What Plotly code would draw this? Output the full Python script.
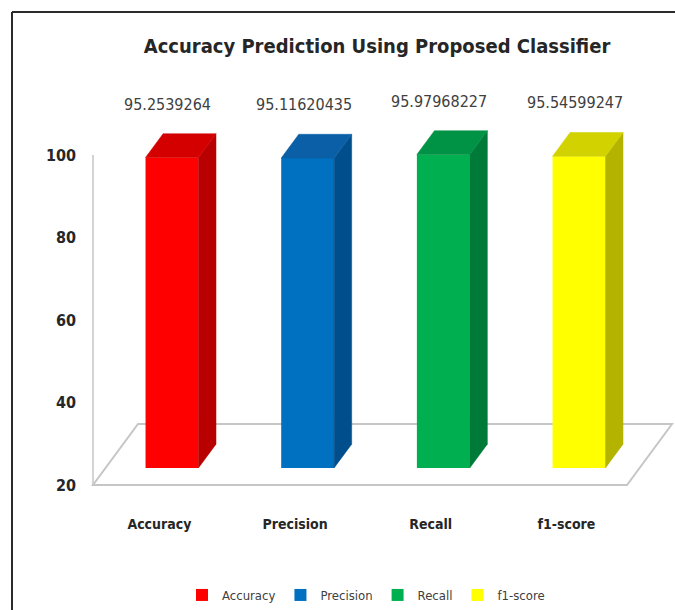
import plotly.graph_objects as go

# ---------------- data ----------------
categories = ["Accuracy", "Precision", "Recall", "f1-score"]
values = [95.2539264, 95.11620435, 95.97968227, 95.54599247]
y_ticks = [20, 40, 60, 80, 100]
title_text = "Accuracy Prediction Using Proposed Classifier"

# ---------------- styles ----------------
front_colors = ["#ff0000", "#0070c0", "#00b050", "#ffff00"]
side_colors = ["#b80000", "#004f8c", "#007a38", "#b3b300"]
top_colors = ["#d40000", "#0a5fa6", "#009245", "#d2d200"]
FONT = "Liberation Sans Narrow, Arial Narrow, DejaVu Sans Condensed, sans-serif"
GRID = "#c6c6c6"

# ---------------- layout geometry (pixels) ----------------
W, H = 675, 610
PX_CAT0, PX_PER_CAT = 159.4, 135.67      # category 0 centre on front plane
PX_Y20, PX_PER_UNIT = 485.0, 4.125       # value 20 on front plane
DEPTH_PX = (45.0, 61.0)                  # floor depth vector in px (right, up)
PLOT_L, PLOT_R, PLOT_T, PLOT_B = 89, 675, 105.5, 490

x_range = [(PLOT_L - PX_CAT0) / PX_PER_CAT, (PLOT_R - PX_CAT0) / PX_PER_CAT]
y_range = [20 + (PX_Y20 - PLOT_B) / PX_PER_UNIT, 20 + (PX_Y20 - PLOT_T) / PX_PER_UNIT]
DX = DEPTH_PX[0] / PX_PER_CAT
DY = DEPTH_PX[1] / PX_PER_UNIT
D_FRONT, D_BACK = 0.28, 0.67
BAR_W = 0.39
FLOOR_X0 = (93 - PX_CAT0) / PX_PER_CAT
FLOOR_X1 = (627 - PX_CAT0) / PX_PER_CAT
base_val = y_ticks[0]


def proj(x, v, d):
    return x + d * DX, v + d * DY


fig = go.Figure()
shapes = []

# floor (parallelogram) as a shape beneath the bars
pts = [proj(x, base_val, d) for (x, d) in [(FLOOR_X0, 0), (FLOOR_X1, 0), (FLOOR_X1, 1), (FLOOR_X0, 1)]]
path = "M " + " L ".join(f"{px},{py}" for px, py in pts) + " Z"
shapes.append(dict(type="path", xref="x", yref="y", path=path, fillcolor="white",
                   line=dict(color=GRID, width=2), layer="below"))
# value axis line
shapes.append(dict(type="line", xref="x", yref="y", x0=FLOOR_X0, x1=FLOOR_X0, y0=y_ticks[0], y1=y_ticks[-1],
                   line=dict(color=GRID, width=1.5), layer="below"))

# front faces (bars) – one trace per series for legend
for i, (cat, v) in enumerate(zip(categories, values)):
    xc, _ = proj(i, base_val, D_FRONT)
    fig.add_trace(go.Bar(x=[xc], y=[v - base_val], base=[base_val + D_FRONT * DY], width=BAR_W,
                         name=cat, marker=dict(color=front_colors[i], line=dict(width=0))))

# side and top faces
dd = D_BACK - D_FRONT
for i, (cat, v) in enumerate(zip(categories, values)):
    xc, _ = proj(i, base_val, D_FRONT)
    xl, xr = xc - BAR_W / 2, xc + BAR_W / 2
    bot = base_val + D_FRONT * DY
    top = v + D_FRONT * DY
    sx = [xr, xr, xr + dd * DX, xr + dd * DX, xr]
    sy = [bot, top, top + dd * DY, bot + dd * DY, bot]
    fig.add_trace(go.Scatter(x=sx, y=sy, mode="lines", fill="toself", fillcolor=side_colors[i],
                             line=dict(color=side_colors[i], width=0.5), showlegend=False, hoverinfo="skip"))
    tx = [xl, xr, xr + dd * DX, xl + dd * DX, xl]
    ty = [top, top, top + dd * DY, top + dd * DY, top]
    fig.add_trace(go.Scatter(x=tx, y=ty, mode="lines", fill="toself", fillcolor=top_colors[i],
                             line=dict(color=top_colors[i], width=0.5), showlegend=False, hoverinfo="skip"))
    lx, ly = proj(i, v, D_BACK)
    fig.add_annotation(x=xc - 0.03, y=ly, text=str(v), showarrow=False, yanchor="bottom", yshift=18,
                       font=dict(family=FONT, size=16, color="#404040"))

# frame
shapes += [
    dict(type="line", xref="paper", yref="paper", x0=12 / W, x1=1, y0=1 - 12 / H, y1=1 - 12 / H,
         line=dict(color="#2a2a2a", width=2)),
    dict(type="line", xref="paper", yref="paper", x0=12 / W, x1=12 / W, y0=0, y1=1 - 12 / H,
         line=dict(color="#2a2a2a", width=2)),
]

fig.update_layout(
    width=W, height=H,
    margin=dict(l=0, r=0, t=0, b=0, autoexpand=False),
    paper_bgcolor="white", plot_bgcolor="white",
    barmode="overlay",
    title=dict(text=title_text, x=377 / W, xref="container", xanchor="center",
               y=1 - 46 / H, yref="container", yanchor="middle",
               font=dict(family=FONT, size=20, color="#262626", weight="bold")),
    xaxis=dict(domain=[PLOT_L / W, PLOT_R / W], range=x_range, showgrid=False, zeroline=False,
               showline=False, ticks="", tickvals=list(range(len(categories))), ticktext=categories,
               automargin=False, ticklabelstandoff=24,
               tickfont=dict(family=FONT, size=14, color="#262626", weight="bold")),
    yaxis=dict(domain=[1 - PLOT_B / H, 1 - PLOT_T / H], range=y_range, showgrid=False, zeroline=False,
               showline=False, ticks="", tickvals=y_ticks, ticklabelstandoff=12, automargin=False,
               tickfont=dict(family=FONT, size=16, color="#262626", weight="bold")),
    legend=dict(orientation="h", x=366 / W, xanchor="center", y=1 - 595 / H, yanchor="middle",
                font=dict(family=FONT, size=13, color="#404040"), itemclick=False,
                itemwidth=30, tracegroupgap=0),
    shapes=shapes,
)

fig.write_html("out.html", config={"displayModeBar": False})
